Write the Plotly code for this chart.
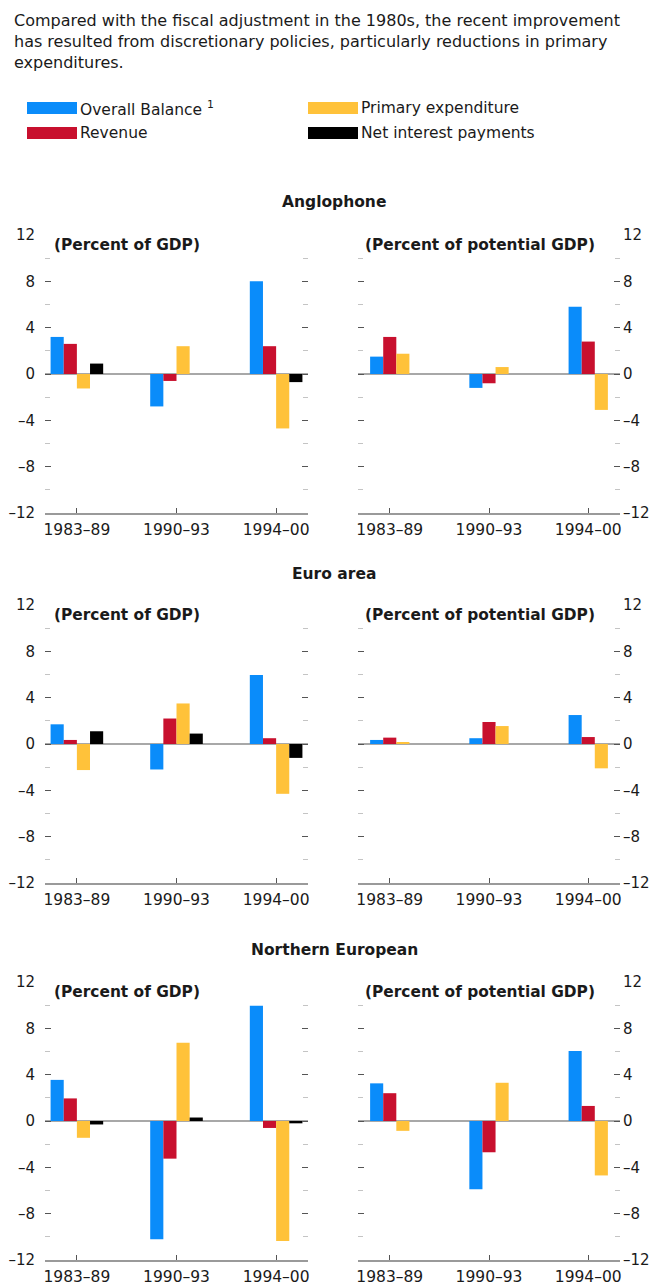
import plotly.graph_objects as go

# page body has an 8px default margin; compensate so pixel positions match the window
OX, OY = 8, 8
W, H = 667 - OX, 1285 - OY

categories = ["1983–89", "1990–93", "1994–00"]
series_names = ["Overall Balance", "Revenue", "Primary expenditure", "Net interest payments"]
colors = ["#0A8CFA", "#C8102E", "#FFC23A", "#000000"]
row_titles = ["Anglophone", "Euro area", "Northern European"]
panel_labels = ["(Percent of GDP)", "(Percent of potential GDP)"]
y_tick_values = [-12, -8, -4, 0, 4, 8, 12]
y_tick_labels = ["–12", "–8", "–4", "0", "4", "8", "12"]

# Anglophone, percent of GDP
anglo_gdp_balance = [3.2, -2.8, 8.0]
anglo_gdp_revenue = [2.6, -0.6, 2.4]
anglo_gdp_primary = [-1.25, 2.4, -4.7]
anglo_gdp_interest = [0.9, 0.0, -0.7]
# Anglophone, percent of potential GDP
anglo_pot_balance = [1.5, -1.2, 5.8]
anglo_pot_revenue = [3.2, -0.8, 2.8]
anglo_pot_primary = [1.75, 0.6, -3.1]

# Euro area, percent of GDP
euro_gdp_balance = [1.7, -2.2, 5.95]
euro_gdp_revenue = [0.35, 2.2, 0.5]
euro_gdp_primary = [-2.25, 3.5, -4.3]
euro_gdp_interest = [1.1, 0.9, -1.2]
# Euro area, percent of potential GDP
euro_pot_balance = [0.35, 0.5, 2.5]
euro_pot_revenue = [0.55, 1.9, 0.6]
euro_pot_primary = [0.12, 1.55, -2.1]

# Northern European, percent of GDP
north_gdp_balance = [3.55, -10.2, 9.95]
north_gdp_revenue = [1.95, -3.25, -0.6]
north_gdp_primary = [-1.45, 6.75, -10.35]
north_gdp_interest = [-0.3, 0.3, -0.2]
# Northern European, percent of potential GDP
north_pot_balance = [3.25, -5.9, 6.05]
north_pot_revenue = [2.4, -2.7, 1.3]
north_pot_primary = [-0.85, 3.3, -4.7]

panels = [
    [[anglo_gdp_balance, anglo_gdp_revenue, anglo_gdp_primary, anglo_gdp_interest],
     [anglo_pot_balance, anglo_pot_revenue, anglo_pot_primary]],
    [[euro_gdp_balance, euro_gdp_revenue, euro_gdp_primary, euro_gdp_interest],
     [euro_pot_balance, euro_pot_revenue, euro_pot_primary]],
    [[north_gdp_balance, north_gdp_revenue, north_gdp_primary, north_gdp_interest],
     [north_pot_balance, north_pot_revenue, north_pot_primary]],
]

# layout in window pixels
row_px = [(235, 513), (605, 883), (982, 1260)]
col_px = [(45, 308), (358, 620)]
title_px = [202, 574, 950]
label_x_px = [52, 363]


def px_x(v):
    return (v - OX) / W


def px_y(v):
    return 1 - (v - OY) / H


FONT = "DejaVu Sans"
TXT = "#1a1a1a"
fig = go.Figure()
layout = dict(
    width=W, height=H,
    margin=dict(l=0, r=0, t=0, b=0, pad=0),
    paper_bgcolor="white", plot_bgcolor="white",
    barmode="overlay", showlegend=False,
    font=dict(family=FONT, size=15, color=TXT),
)
annotations = []
shapes = []

bar_w = 0.132
k = 0
for r in range(3):
    for c in range(2):
        k += 1
        xa = "x" if k == 1 else f"x{k}"
        ya = "y" if k == 1 else f"y{k}"
        series = panels[r][c]
        n = len(series)
        for i, vals in enumerate(series):
            fig.add_trace(go.Bar(
                x=categories, y=vals, xaxis=xa, yaxis=ya,
                name=series_names[i], marker=dict(color=colors[i], line=dict(width=0)),
                width=bar_w, offset=(i - n / 2) * bar_w,
            ))
        x0, x1 = col_px[c]
        y0, y1 = row_px[r]
        layout["xaxis" if k == 1 else f"xaxis{k}"] = dict(
            domain=[px_x(x0), px_x(x1)], anchor=ya, range=[-0.32, 2.32],
            showgrid=False, zeroline=False, showline=True, linecolor="#9a9a9a", linewidth=2,
            ticks="inside", ticklen=5, tickcolor="#555", tickwidth=1,
            tickfont=dict(family=FONT, size=15.5, color=TXT),
            ticklabelstandoff=1, automargin=False, fixedrange=True,
        )
        layout["yaxis" if k == 1 else f"yaxis{k}"] = dict(
            domain=[px_y(y1), px_y(y0)], anchor=xa, range=[-12, 12],
            side="left" if c == 0 else "right",
            tickvals=y_tick_values, ticktext=y_tick_labels,
            ticks="inside", ticklen=6, tickcolor="#555", tickwidth=1,
            mirror="ticks", showline=False, showgrid=False,
            zeroline=True, zerolinecolor="#a8a8a8", zerolinewidth=1.5,
            minor=dict(ticks="inside", ticklen=5, tickcolor="#c4c4c4", dtick=2, tick0=0, showgrid=False),
            tickfont=dict(family=FONT, size=15, color=TXT),
            ticklabelstandoff=9 if c == 0 else 2, automargin=False, fixedrange=True,
        )
        annotations.append(dict(
            text=panel_labels[c], xref="paper", yref=ya, x=px_x(label_x_px[c]), y=12,
            xanchor="left", yanchor="top", showarrow=False, yshift=1,
            font=dict(family=FONT, size=15.4, color=TXT, weight="bold"),
        ))
    annotations.append(dict(
        text=row_titles[r], xref="paper", yref="paper", x=px_x(334), y=px_y(title_px[r]),
        xanchor="center", yanchor="middle", showarrow=False,
        font=dict(family=FONT, size=15.5, color=TXT, weight="bold"),
    ))

# header text
annotations.append(dict(
    text=("Compared with the fiscal adjustment in the 1980s, the recent improvement<br>"
          "has resulted from discretionary policies, particularly reductions in primary<br>"
          "expenditures."),
    xref="paper", yref="paper", x=px_x(12), y=px_y(9), xanchor="left", yanchor="top",
    align="left", showarrow=False, font=dict(family=FONT, size=16, color=TXT),
))

# legend (drawn as swatches + text)
legend_items = [
    (0, "Overall Balance <sup>1</sup>", 27, 108),
    (1, "Revenue", 27, 133),
    (2, "Primary expenditure", 308, 108),
    (3, "Net interest payments", 308, 133),
]
for idx, label, lx, ly in legend_items:
    shapes.append(dict(
        type="rect", xref="paper", yref="paper",
        x0=px_x(lx), x1=px_x(lx + 50), y0=px_y(ly - 6), y1=px_y(ly + 6),
        fillcolor=colors[idx], line=dict(width=0),
    ))
    annotations.append(dict(
        text=label, xref="paper", yref="paper", x=px_x(lx + 51), y=px_y(ly),
        xanchor="left", yanchor="middle", showarrow=False,
        font=dict(family=FONT, size=15.5, color=TXT),
    ))

layout["annotations"] = annotations
layout["shapes"] = shapes
fig.update_layout(**layout)
fig.write_html("out.html")
